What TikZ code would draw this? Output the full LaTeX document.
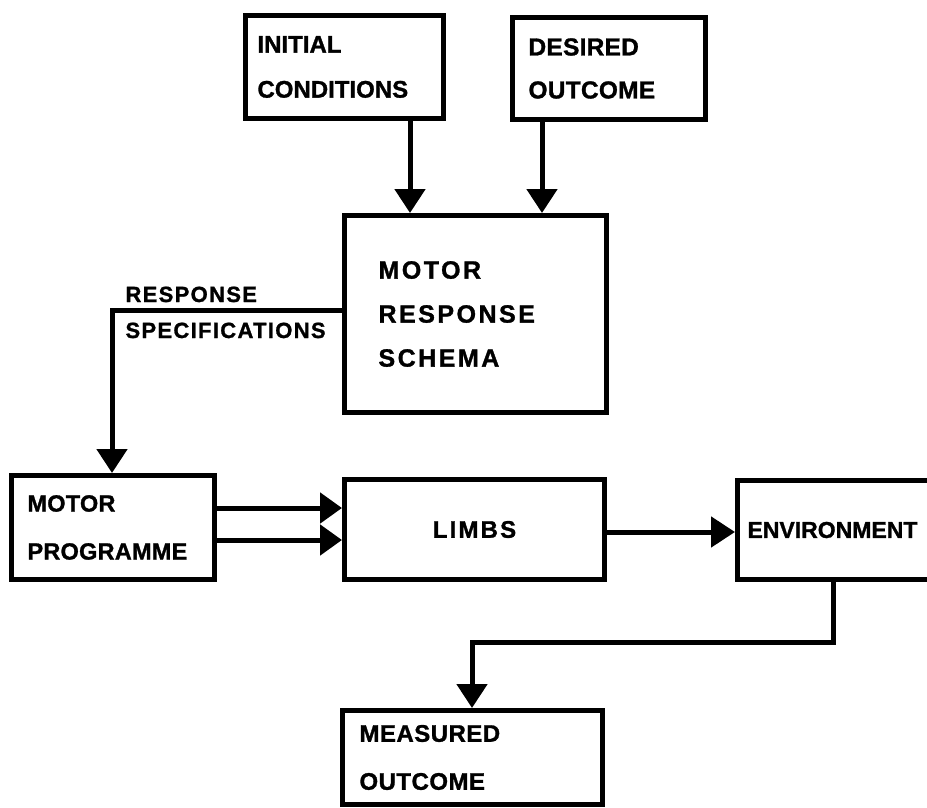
\documentclass[tikz,border=0pt]{standalone}
\usepackage{fontspec}
\setmainfont{Liberation Sans}[BoldFeatures={FakeBold=1.2}]
\usetikzlibrary{arrows.meta}
\newcommand{\boxfont}[3]{\fontsize{#1}{#2}\selectfont\bfseries\addfontfeatures{LetterSpace=#3}}
\begin{document}
\begin{tikzpicture}[x=1pt,y=-1pt,line width=5pt,
  box/.style={draw,line width=5pt,rectangle,anchor=north west,inner sep=0pt,align=left,
    font=\boxfont{24}{45}{0}},
  lbl/.style={inner sep=0pt,anchor=base west,font=\boxfont{22}{30}{6}},
  arr/.style={-{Triangle[width=30pt,length=24pt]},line width=5pt},
  arrs/.style={-{Triangle[width=30pt,length=22pt]},line width=5pt}]
\useasboundingbox (0,0) rectangle (927,808);
\clip (0,0) rectangle (927,808);
% boxes
\node[box,minimum width=198pt,minimum height=103pt,text width=174pt] (ic) at (243,13) {INITIAL\\CONDITIONS};
\node[box,minimum width=193pt,minimum height=102pt,text width=161pt,
  font=\boxfont{24.5}{43}{1}] (do) at (510,15) {DESIRED\\OUTCOME};
\node[box,minimum width=262pt,minimum height=197pt,text width=194pt,
  font=\boxfont{25}{44}{10}] (mrs) at (342,213) {MOTOR\\RESPONSE\\SCHEMA};
\node[box,minimum width=203pt,minimum height=104pt,text width=171pt,
  font=\boxfont{23.5}{48}{1}] (mp) at (9,473) {MOTOR\\PROGRAMME};
\node[box,minimum width=260pt,minimum height=100pt,align=center,
  font=\boxfont{24}{44}{9}] (limbs) at (342,477) {LIMBS};
\node[box,minimum width=200pt,minimum height=99pt,text width=180pt,
  font=\boxfont{23}{44}{0}] (env) at (735,478) {ENVIRONMENT};
\node[box,minimum width=260pt,minimum height=94pt,text width=226pt,
  font=\boxfont{24}{48}{2}] (mo) at (340,708) {MEASURED\\OUTCOME};
% label
\node[lbl] (rs1) at (123,302) {RESPONSE};
\node[lbl] (rs2) at (123,338) {SPECIFICATIONS};
% helper coordinates
\coordinate (c1) at (410,0);
\coordinate (c2) at (542,0);
\coordinate (c3) at (112,310);
\coordinate (c4) at (0,508);
\coordinate (c5) at (0,540);
\coordinate (c6) at (0,532);
\coordinate (c7) at (833,642);
\coordinate (c8) at (472,642);
% connectors
\draw[arr] (ic.south -| c1) -- (mrs.north -| c1);
\draw[arr] (do.south -| c2) -- (mrs.north -| c2);
\draw[arr] (mrs.west |- c3) -- (c3) -- (mp.north -| c3);
\draw[arrs] (mp.east |- c4) -- (limbs.west |- c4);
\draw[arrs] (mp.east |- c5) -- (limbs.west |- c5);
\draw[arr] (limbs.east |- c6) -- (env.west |- c6);
\draw[arr] (env.south -| c7) -- (c7) -- (c8) -- (mo.north -| c8);
\end{tikzpicture}
\end{document}
